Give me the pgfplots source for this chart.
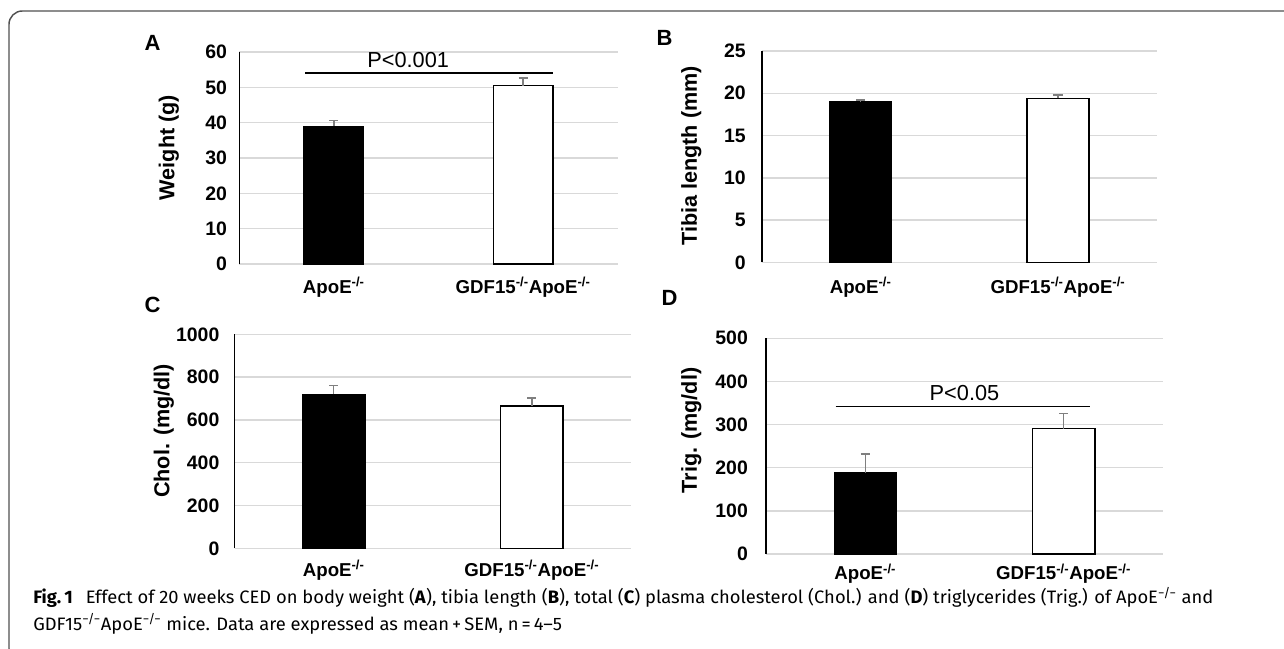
\documentclass[border=0pt]{standalone}
\usepackage{fontspec}
\setmainfont{Liberation Sans}
\newfontfamily\capfont{Fira Sans}
\usepackage{graphicx}
\usepackage{pgfplots}
\pgfplotsset{compat=1.18}

\definecolor{gridgray}{HTML}{D9D9D9}
\definecolor{errgray}{HTML}{7F7F7F}
\definecolor{framegray}{HTML}{505050}

\pgfplotsset{
  panel/.style={
    scale only axis, anchor=south west, clip=false,
    xmin=-0.5, xmax=1.5, ymin=0,
    xtick={0,1},
    xticklabels={ApoE\textsuperscript{-/-}, GDF15\textsuperscript{-/-}ApoE\textsuperscript{-/-}},
    axis x line*=bottom, axis y line*=left,
    x axis line style={draw=gridgray, line width=1.1pt, -},
    y axis line style={draw=black, line width=1pt, -},
    ymajorgrids, major grid style={draw=gridgray, line width=1.1pt},
    major tick length=0pt,
    /pgf/number format/assume math mode=true,
    /pgf/number format/1000 sep={},
    scaled y ticks=false,
    yticklabel style={anchor=east, inner sep=0pt, font=\fontsize{14.6}{16}\selectfont\bfseries},
    xticklabel style={anchor=base, inner sep=0pt, font=\fontsize{14}{16}\selectfont\bfseries},
    ybar, bar width=0.314, bar shift=0pt,
  },
  errs/.style={error bars/.cd, y dir=plus, y explicit,
    error bar style={errgray, line width=1pt},
    error mark options={rotate=90, errgray, mark size=3.4pt, line width=1pt}},
}

\begin{document}
\begin{tikzpicture}
\path[use as bounding box] (0,0) rectangle (963pt,486.75pt);

% A: body weight
\begin{axis}[panel, at={(179.4pt,288.75pt)}, width=283.9pt, height=159pt,
  ymax=60, ytick={0,10,...,60},
  yticklabel style={xshift=-9pt}, xticklabel style={yshift=-22.3pt}]
\addplot[fill=black, draw=black, line width=1pt, errs] coordinates {(0,39.0) +- (0,1.6)};
\addplot[fill=white, draw=black, line width=1.1pt, errs] coordinates {(1,50.5) +- (0,2.1)};
\draw[black, line width=1pt] (axis cs:-0.15,54.1) -- (axis cs:1.16,54.1);
\node[font=\fontsize{16.3}{18}\selectfont] at (axis cs:0.393,57.7) {P<0.001};
\end{axis}

% B: tibia length
\begin{axis}[panel, at={(571.5pt,290pt)}, width=296pt, height=158.5pt,
  ymax=25, ytick={0,5,...,25},
  yticklabel style={xshift=-12pt}, xticklabel style={yshift=-23.5pt}]
\addplot[fill=black, draw=black, line width=1pt, errs] coordinates {(0,19.0) +- (0,0.2)};
\addplot[fill=white, draw=black, line width=1.1pt, errs] coordinates {(1,19.4) +- (0,0.4)};
\end{axis}

% C: cholesterol
\begin{axis}[panel, at={(176pt,75.5pt)}, width=297.2pt, height=160.5pt,
  ymax=1000, ytick={0,200,...,1000},
  yticklabel style={xshift=-11.25pt}, xticklabel style={yshift=-21.3pt}]
\addplot[fill=black, draw=black, line width=1pt, errs] coordinates {(0,720) +- (0,42)};
\addplot[fill=white, draw=black, line width=1.1pt, errs] coordinates {(1,666) +- (0,36)};
\end{axis}

% D: triglycerides
\begin{axis}[panel, at={(574.6pt,71.25pt)}, width=297.5pt, height=161.8pt,
  ymax=500, ytick={0,100,...,500},
  yticklabel style={xshift=-13.5pt}, xticklabel style={yshift=-19.5pt}]
\addplot[fill=black, draw=black, line width=1pt, errs] coordinates {(0,188.5) +- (0,43)};
\addplot[fill=white, draw=black, line width=1.1pt, errs] coordinates {(1,290.5) +- (0,34.5)};
\draw[black, line width=1pt] (axis cs:-0.15,342.4) -- (axis cs:1.133,342.4);
\node[font=\fontsize{16.3}{18}\selectfont] at (axis cs:0.5,372.5) {P<0.05};
\end{axis}

% frame, panel letters, axis titles, caption (pixel coordinates from top left)
\begin{scope}[x=0.75pt, y=-0.75pt, shift={(0pt,486.75pt)}]
\draw[framegray, line width=1.1pt, rounded corners=10pt] (9,11) rectangle (1310,662);
\begin{scope}[font=\fontsize{16.5}{18}\selectfont\bfseries]
\node at (152.6,43.3) {A};
\node at (664.6,38.3) {B};
\node at (152.6,305) {C};
\node at (669.6,298.3) {D};
\end{scope}
\begin{scope}[font=\fontsize{16.2}{18}\selectfont\bfseries]
\node[rotate=90] at (168.9,147.5) {Weight (g)};
\node[rotate=90] at (691.3,156) {Tibia length (mm)};
\node[rotate=90] at (163.8,431) {Chol. (mg/dl)};
\node[rotate=90] at (691.3,430.5) {Trig. (mg/dl)};
\end{scope}
\node[anchor=base west, inner sep=0pt] at (33,604) {\resizebox{885pt}{\height}{\capfont\fontsize{13.5}{19.5}\selectfont
  \begin{tabular}[t]{@{}l@{}}
  \textbf{Fig.\,1}\hspace{0.7em}Effect of 20 weeks CED on body weight (\textbf{A}), tibia length (\textbf{B}), total (\textbf{C}) plasma cholesterol (Chol.) and (\textbf{D}) triglycerides (Trig.) of ApoE\textsuperscript{−/−} and\\
  GDF15\textsuperscript{−/−}ApoE\textsuperscript{−/−} mice. Data are expressed as mean\,+\,SEM, n\,=\,4–5
  \end{tabular}}};
\end{scope}
\end{tikzpicture}
\end{document}
